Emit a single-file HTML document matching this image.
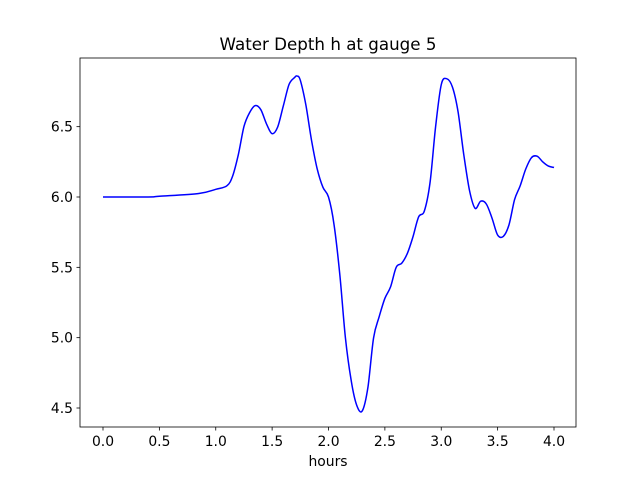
<!DOCTYPE html>
<html><head><meta charset="utf-8"><style>body{margin:0;background:#fff}svg{display:block;font-family:"DejaVu Sans","Liberation Sans",sans-serif}</style></head>
<body>
<svg id="chart" width="640" height="480"></svg>
<script>
const times=[0,0.4,0.5,0.85,1.0,1.1,1.15,1.2,1.25,1.3,1.35,1.4,1.45,1.5,1.55,1.6,1.65,1.7,1.72,1.75,1.8,1.85,1.9,1.95,2.0,2.05,2.1,2.15,2.2,2.25,2.3,2.35,2.4,2.45,2.5,2.55,2.6,2.65,2.7,2.75,2.8,2.85,2.9,2.95,3.0,3.05,3.1,3.15,3.2,3.25,3.3,3.35,3.4,3.45,3.5,3.55,3.6,3.65,3.7,3.75,3.8,3.85,3.9,3.95,4.0];
const depth=[6.0,6.0,6.005,6.025,6.055,6.08,6.15,6.3,6.5,6.6,6.65,6.62,6.52,6.45,6.5,6.65,6.8,6.85,6.86,6.83,6.65,6.4,6.2,6.07,6.0,5.8,5.45,5.0,4.7,4.52,4.48,4.65,5.0,5.15,5.28,5.36,5.5,5.53,5.6,5.72,5.86,5.9,6.1,6.5,6.8,6.84,6.78,6.6,6.3,6.05,5.92,5.97,5.95,5.85,5.73,5.72,5.8,5.98,6.08,6.2,6.28,6.29,6.25,6.22,6.21];
const xTicks=[0,0.5,1,1.5,2,2.5,3,3.5,4];
const yTicks=[4.5,5.0,5.5,6.0,6.5];
const ns="http://www.w3.org/2000/svg",svg=document.getElementById('chart');
const X=v=>103+v*112.75, Y=v=>197-(v-6)*140.67;
function mk(t,a,txt){const e=document.createElementNS(ns,t);for(const k in a)e.setAttribute(k,a[k]);if(txt!==undefined)e.textContent=txt;svg.appendChild(e);return e;}
const pts=times.map((t,i)=>[X(t),Y(depth[i])]);
let d='M'+pts[0][0]+','+pts[0][1];
for(let i=0;i<pts.length-1;i++){const p0=pts[Math.max(0,i-1)],p1=pts[i],p2=pts[i+1],p3=pts[Math.min(pts.length-1,i+2)];
 const c1=[p1[0]+(p2[0]-p0[0])/6,p1[1]+(p2[1]-p0[1])/6],c2=[p2[0]-(p3[0]-p1[0])/6,p2[1]-(p3[1]-p1[1])/6];
 d+='C'+c1[0].toFixed(1)+','+c1[1].toFixed(1)+' '+c2[0].toFixed(1)+','+c2[1].toFixed(1)+' '+p2[0].toFixed(1)+','+p2[1].toFixed(1);}
let p=mk('path',{d:d,fill:'none',stroke:'#0000ff','stroke-width':1.5});


let fr=mk('rect',{x:80,y:58,width:496,height:369,fill:'none',stroke:'#000','stroke-width':0.8});


xTicks.forEach(v=>{mk('line',{x1:X(v),x2:X(v),y1:427,y2:430.5,stroke:'#000','stroke-width':0.8});
 let t=mk('text',{x:X(v),y:446,'text-anchor':'middle','font-size':13.9},v.toFixed(1));
 
 });
yTicks.forEach(v=>{mk('line',{x1:76.5,x2:80,y1:Y(v),y2:Y(v),stroke:'#000','stroke-width':0.8});
 let t=mk('text',{x:73,y:Y(v)+5,'text-anchor':'end','font-size':13.9},v.toFixed(1));
 
 });
let xl=mk('text',{x:328,y:466,'text-anchor':'middle','font-size':13.9},'hours');


let ti=mk('text',{x:328,y:50,'text-anchor':'middle','font-size':16.7},'Water Depth h at gauge 5');


</script>
</body></html>
